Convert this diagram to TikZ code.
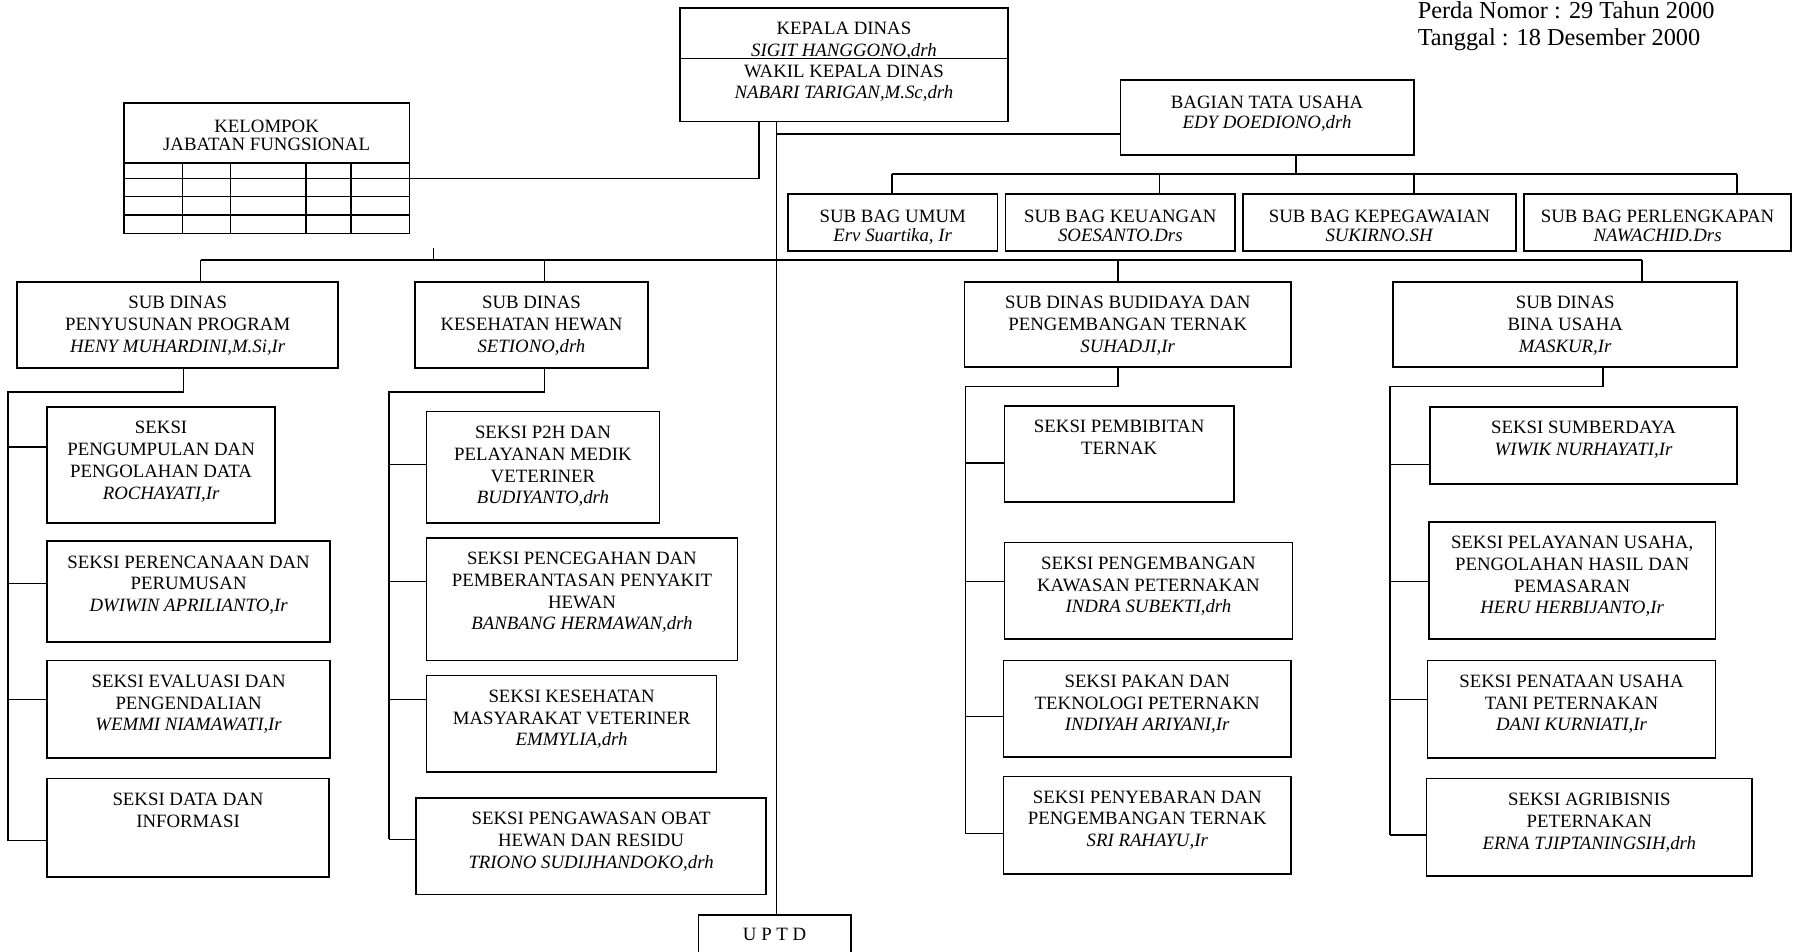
\documentclass[tikz,border=0pt]{standalone}
\usepackage{fontspec}
\setmainfont{Liberation Serif}
\usetikzlibrary{calc}
\tikzset{
  x=0.5pt, y=-0.5pt,
  ln/.style={line width=0.7pt, black},
  boxst/.style={draw, line width=0.7pt, inner sep=0pt, outer sep=0pt, rectangle},
  txt/.style={align=center, inner sep=0pt, font=\fontsize{8.2}{9.5}\selectfont},
  hdr/.style={inner sep=0pt, font=\fontsize{10.6}{12}\selectfont},
}
\newcommand\mybox[7][11]{%
  \pgfmathsetmacro\mybw{(#5-#3)/2}%
  \pgfmathsetmacro\mybh{(#6-#4)/2}%
  \node[boxst, minimum width=\mybw pt, minimum height=\mybh pt] (#2) at ({(#3+#5)/2},{(#4+#6)/2}) {};%
  \node[txt, anchor=north] (#2t) at ({(#3+#5)/2},{#4+#1}) {\rule{0pt}{6pt}#7};%
}
\newcommand\branch[3]{%
  \coordinate (#2in) at ($(#2.north west)+(0,#3)$);%
  \draw[ln] (#1 |- #2in) -- (#2in);%
}
\begin{document}
\begin{tikzpicture}
\useasboundingbox (0,0) rectangle (1568,830);
\fill[white] (0,0) rectangle (1568,830);

% header text
\node[hdr, anchor=base west] (perda1) at (1236,16) {Perda Nomor : 29 Tahun 2000};
\node[hdr, anchor=base west] (perda2) at (1236,40) {Tanggal : 18 Desember 2000};

% top boxes
\mybox[11]{kepala}{593}{7}{879}{106}{KEPALA DINAS\\[-0.2pt]\textit{SIGIT HANGGONO,drh}\\[-0.2pt]WAKIL KEPALA DINAS\\[-0.2pt]\textit{NABARI TARIGAN,M.Sc,drh}}
\draw[ln] ($(kepala.north west)+(0,44)$) -- ($(kepala.north east)+(0,44)$);

\mybox[13]{kelompok}{108}{90}{357}{203.5}{KELOMPOK\\[-1.5pt]JABATAN FUNGSIONAL}
\foreach \dy in {52.4,65.5,81.5,97.5} {\draw[ln] ($(kelompok.north west)+(0,\dy)$) -- ($(kelompok.north east)+(0,\dy)$);}
\foreach \dx in {51,93,159,198} {\draw[ln] ($(kelompok.north west)+(\dx,52.4)$) -- ($(kelompok.south west)+(\dx,0)$);}

\mybox[12.5]{bagian}{977}{70}{1233}{135}{BAGIAN TATA USAHA\\[-1pt]\textit{EDY DOEDIONO,drh}}

\mybox[12.5]{umum}{687}{169}{870}{219}{SUB BAG UMUM\\[-1pt]\textit{Erv Suartika, Ir}}
\mybox[12.5]{keu}{877}{169}{1077}{219}{SUB BAG KEUANGAN\\[-1pt]\textit{SOESANTO.Drs}}
\mybox[12.5]{peg}{1084}{169}{1322}{219}{SUB BAG KEPEGAWAIAN\\[-1pt]\textit{SUKIRNO.SH}}
\mybox[12.5]{perl}{1329}{169}{1562}{219}{SUB BAG PERLENGKAPAN\\[-1pt]\textit{NAWACHID.Drs}}

% sub dinas
\mybox{sdA}{15}{246}{295}{321}{SUB DINAS\\PENYUSUNAN PROGRAM\\\textit{HENY MUHARDINI,M.Si,Ir}}
\mybox{sdB}{362}{246}{565}{321}{SUB DINAS\\KESEHATAN HEWAN\\\textit{SETIONO,drh}}
\mybox{sdC}{841}{246}{1126}{320}{SUB DINAS BUDIDAYA DAN\\PENGEMBANGAN TERNAK\\\textit{SUHADJI,Ir}}
\mybox{sdD}{1215}{246}{1515}{320}{SUB DINAS\\BINA USAHA\\\textit{MASKUR,Ir}}

% column A
\mybox{sA1}{41}{355}{240}{456}{SEKSI\\PENGUMPULAN DAN\\PENGOLAHAN DATA\\\textit{ROCHAYATI,Ir}}
\mybox{sA2}{41}{472}{288}{560}{SEKSI PERENCANAAN DAN\\PERUMUSAN\\\textit{DWIWIN APRILIANTO,Ir}}
\mybox{sA3}{41}{576}{288}{661}{SEKSI EVALUASI DAN\\PENGENDALIAN\\\textit{WEMMI NIAMAWATI,Ir}}
\mybox{sA4}{41}{679}{287}{765}{SEKSI DATA DAN\\INFORMASI}

% column B
\mybox{sB1}{372}{359}{575}{456}{SEKSI P2H DAN\\PELAYANAN MEDIK\\VETERINER\\\textit{BUDIYANTO,drh}}
\mybox{sB2}{372}{469}{643}{576}{SEKSI PENCEGAHAN DAN\\PEMBERANTASAN PENYAKIT\\HEWAN\\\textit{BANBANG HERMAWAN,drh}}
\mybox{sB3}{372}{589}{625}{673}{SEKSI KESEHATAN\\MASYARAKAT VETERINER\\\textit{EMMYLIA,drh}}
\mybox{sB4}{363}{696}{668}{780}{SEKSI PENGAWASAN OBAT\\HEWAN DAN RESIDU\\\textit{TRIONO SUDIJHANDOKO,drh}}

% column C
\mybox{sC1}{876}{354}{1076}{438}{SEKSI PEMBIBITAN\\TERNAK}
\mybox{sC2}{876}{473}{1127}{557}{SEKSI PENGEMBANGAN\\KAWASAN PETERNAKAN\\\textit{INDRA SUBEKTI,drh}}
\mybox{sC3}{875}{576}{1126}{660}{SEKSI PAKAN DAN\\TEKNOLOGI PETERNAKN\\\textit{INDIYAH ARIYANI,Ir}}
\mybox{sC4}{875}{677}{1126}{762}{SEKSI PENYEBARAN DAN\\PENGEMBANGAN TERNAK\\\textit{SRI RAHAYU,Ir}}

% column D
\mybox{sD1}{1247}{355}{1515}{422}{SEKSI SUMBERDAYA\\\textit{WIWIK NURHAYATI,Ir}}
\mybox{sD2}{1246}{455}{1496}{557}{SEKSI PELAYANAN USAHA,\\PENGOLAHAN HASIL DAN\\PEMASARAN\\\textit{HERU HERBIJANTO,Ir}}
\mybox{sD3}{1245}{576}{1496}{661}{SEKSI PENATAAN USAHA\\TANI PETERNAKAN\\\textit{DANI KURNIATI,Ir}}
\mybox{sD4}{1244}{679}{1528}{764}{SEKSI AGRIBISNIS\\PETERNAKAN\\\textit{ERNA TJIPTANINGSIH,drh}}

% UPTD
\mybox[10]{uptd}{609}{798}{742}{845}{U P T D}

% ---- connectors ----
\coordinate (mx) at (677,0);
\draw[ln] (mx |- kepala.south) -- (mx |- uptd.north);

\coordinate (kj) at (662,155.5);
\draw[ln] (kelompok.east |- kj) -- (kj) -- (kj |- kepala.south);

\coordinate (bj) at (677,117);
\draw[ln] (bj) -- (bj -| bagian.west);

\coordinate (sbj) at (1130,152);
\draw[ln] (sbj |- bagian.south) -- (sbj);
\coordinate (s1) at (778,152);
\coordinate (s2) at (1011,152);
\coordinate (s3) at (1233,152);
\coordinate (s4) at (1515,152);
\draw[ln] (s1) -- (s4);
\draw[ln] (s1) -- (s1 |- umum.north);
\draw[ln] (s2) -- (s2 |- keu.north);
\draw[ln] (s3) -- (s3 |- peg.north);
\draw[ln] (s4) -- (s4 |- perl.north);

\coordinate (dA) at (175,227);
\coordinate (dB) at (475,227);
\coordinate (dC) at (975,227);
\coordinate (dD) at (1432,227);
\draw[ln] (dA) -- (dD);
\draw[ln] (dA) -- (dA |- sdA.north);
\draw[ln] (dB) -- (dB |- sdB.north);
\draw[ln] (dC) -- (dC |- sdC.north);
\draw[ln] (dD) -- (dD |- sdD.north);
\coordinate (tk) at (378,216);
\draw[ln] (tk) -- (tk |- dA);

% column A links
\coordinate (jA) at (160,342);
\coordinate (tA) at (7,342);
\branch{tA}{sA1}{35}
\branch{tA}{sA2}{37}
\branch{tA}{sA3}{34}
\branch{tA}{sA4}{54}
\draw[ln] (sdA.south -| jA) -- (jA) -- (tA) -- (tA |- sA4in);

% column B links
\coordinate (jB) at (475,342);
\coordinate (tB) at (339,342);
\branch{tB}{sB1}{46}
\branch{tB}{sB2}{38}
\branch{tB}{sB3}{21}
\branch{tB}{sB4}{36}
\draw[ln] (sdB.south -| jB) -- (jB) -- (tB) -- (tB |- sB4in);

% column C links
\coordinate (jC) at (975,337);
\coordinate (tC) at (842,337);
\branch{tC}{sC1}{50}
\branch{tC}{sC2}{34}
\branch{tC}{sC3}{49}
\branch{tC}{sC4}{50}
\draw[ln] (sdC.south -| jC) -- (jC) -- (tC) -- (tC |- sC4in);

% column D links
\coordinate (jD) at (1398,337);
\coordinate (tD) at (1212,337);
\branch{tD}{sD1}{50}
\branch{tD}{sD2}{52}
\branch{tD}{sD3}{34}
\branch{tD}{sD4}{49}
\draw[ln] (sdD.south -| jD) -- (jD) -- (tD) -- (tD |- sD4in);
\end{tikzpicture}
\end{document}
